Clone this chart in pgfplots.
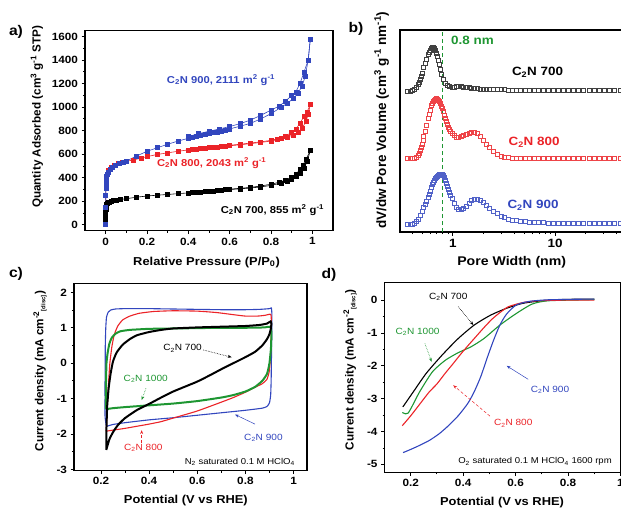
\documentclass[border=0pt]{standalone}
\usepackage{fontspec}
\setmainfont[FakeStretch=1.12]{Liberation Sans}
\newfontfamily\plainfont{Liberation Sans}
\usepackage{pgfplots}
\pgfplotsset{compat=1.18}
\usetikzlibrary{arrows.meta}

\definecolor{cblue}{RGB}{50,70,190}
\definecolor{cred}{RGB}{235,35,40}
\definecolor{cgreen}{RGB}{30,150,50}

\pgfplotsset{
  panel/.style={
    scale only axis, clip=false,
    axis line style={line width=1.1pt},
    tick pos=left, tick align=outside,
    major tick length=3.5pt, minor tick length=2pt,
    every tick/.style={black, line width=0.9pt},
    ticklabel style={font=\fontsize{10.5}{12}\selectfont\bfseries},
    /pgf/number format/assume math mode=true,
    /pgf/number format/1000 sep={},
    scaled ticks=false,
    xlabel style={anchor=center, font=\fontsize{11.5}{13}\selectfont\bfseries},
    ylabel style={anchor=center, font=\plainfont\fontsize{11.7}{13}\selectfont\bfseries},
  },
}
\tikzset{ann/.style={font=\fontsize{9}{10}\selectfont},
  letter/.style={font=\fontsize{14}{16}\selectfont\bfseries}}

\begin{document}
\begin{tikzpicture}[x=1pt,y=1pt]
\path[use as bounding box] (0,0) rectangle (621,507);
\clip (0,0) rectangle (621,507);

\node[letter] at (16,475) {a)};
\node[letter] at (356,478) {b)};
\node[letter] at (16,233) {c)};
\node[letter] at (329,232) {d)};

% a) isotherms
\begin{axis}[panel, at={(85pt,276.3pt)}, anchor=south west,
  width=248pt, height=200pt,
  xmin=-0.1, xmax=1.1, ymin=-50, ymax=1650,
  xtick={0,0.2,0.4,0.6,0.8,1}, ytick={0,200,...,1600},
  minor x tick num=1, minor y tick num=1,
  xlabel={Relative Pressure (P/P\textsubscript{0})},
  ylabel={Quantity Adsorbed (cm\textsuperscript{3} g\textsuperscript{-1} STP)},
  xlabel style={at={(axis description cs:0.49,-0.157)}},
  ylabel style={at={(axis description cs:-0.194,0.57)}},
  every axis plot/.append style={line width=0.6pt, mark=square*, mark size=2pt},
]
\addplot[black, mark options={fill=black}] coordinates {
(0,5) (0.0002,40) (0.0004,80) (0.0006,110) (0.0008,130) (0.001,145) (0.0015,158)
(0.002,165) (0.003,172) (0.005,178) (0.008,184) (0.012,190) (0.018,195) (0.025,200)
(0.035,205) (0.05,210) (0.07,215) (0.1,222) (0.15,235) (0.2,245) (0.25,252) (0.3,258)
(0.35,265) (0.4,271) (0.42,274) (0.44,277) (0.46,280) (0.48,283) (0.5,286) (0.52,289)
(0.54,292) (0.56,295) (0.58,298) (0.6,300) (0.65,306) (0.7,313) (0.75,322) (0.8,335)
(0.85,355) (0.88,372) (0.9,388) (0.92,410) (0.94,435) (0.96,480) (0.975,540) (0.99,630)};
\addplot[black, mark options={fill=black}] coordinates {
(0.99,630) (0.97,560) (0.955,510) (0.94,470) (0.92,430) (0.9,405) (0.87,380)
(0.84,362) (0.8,345) (0.75,330) (0.7,318) (0.65,310) (0.6,303)};
\addplot[cred, mark options={fill=cred}] coordinates {
(0,5) (0.0003,150) (0.0006,250) (0.001,310) (0.002,360) (0.004,400) (0.008,430)
(0.015,460) (0.025,485) (0.04,505) (0.06,520) (0.08,530) (0.1,540) (0.135,552)
(0.17,566) (0.2,580) (0.25,598) (0.3,612) (0.35,625) (0.4,637) (0.42,642) (0.44,646)
(0.46,650) (0.48,654) (0.5,657) (0.52,660) (0.54,663) (0.56,666) (0.58,669) (0.6,672)
(0.65,680) (0.7,690) (0.75,700) (0.8,712) (0.85,732) (0.88,748) (0.91,765) (0.93,785)
(0.95,820) (0.97,880) (0.98,940) (0.99,1022)};
\addplot[cred, mark options={fill=cred}] coordinates {
(0.99,1022) (0.975,960) (0.96,925) (0.94,860) (0.92,815) (0.9,785) (0.87,755)
(0.83,730) (0.8,718) (0.75,705) (0.7,695) (0.65,685) (0.6,676)};
\addplot[cblue, mark options={fill=cblue}] coordinates {
(0,5) (0.0002,150) (0.0004,250) (0.0007,310) (0.001,345) (0.002,380) (0.004,410)
(0.007,430) (0.012,450) (0.02,470) (0.03,488) (0.045,505) (0.065,520) (0.085,532)
(0.1,542) (0.15,585) (0.2,625) (0.25,655) (0.3,685) (0.35,712) (0.4,735) (0.42,745)
(0.44,752) (0.46,760) (0.48,768) (0.5,775) (0.52,783) (0.54,790) (0.56,797) (0.58,805)
(0.6,815) (0.65,838) (0.7,862) (0.75,900) (0.8,945) (0.85,1000) (0.88,1035)
(0.91,1075) (0.93,1120) (0.95,1175) (0.965,1260) (0.98,1400) (0.99,1575)};
\addplot[cblue, mark options={fill=cblue}] coordinates {
(0.99,1575) (0.98,1400) (0.96,1300) (0.94,1200) (0.92,1130) (0.9,1100) (0.87,1050)
(0.84,1010) (0.8,975) (0.75,930) (0.7,890) (0.65,860) (0.6,835) (0.55,815)
(0.5,795) (0.45,775) (0.4,750)};
\node[font=\fontsize{10}{11}\selectfont\bfseries, cblue] at (axis cs:0.558,1231)
  {C\textsubscript{2}N 900, 2111 m\textsuperscript{2} g\textsuperscript{-1}};
\node[font=\fontsize{10}{11}\selectfont\bfseries, cred] at (axis cs:0.513,523)
  {C\textsubscript{2}N 800, 2043 m\textsuperscript{2} g\textsuperscript{-1}};
\node[font=\fontsize{10}{11}\selectfont\bfseries, black] at (axis cs:0.807,126)
  {C\textsubscript{2}N 700, 855 m\textsuperscript{2} g\textsuperscript{-1}};
\end{axis}

% b) pore size distributions
\begin{semilogxaxis}[panel, at={(400pt,275pt)}, anchor=south west,
  width=226.5pt, height=202pt,
  xmin=0.305, xmax=50, ymin=0, ymax=202,
  xtick={1,10}, xticklabels={1,10},
  minor xtick={0.4,0.5,0.6,0.7,0.8,0.9,2,3,4,5,6,7,8,9,20,30,40},
  ytick=\empty,
  ticklabel style={font=\fontsize{12}{14}\selectfont\bfseries},
  xlabel={Pore Width (nm)},
  ylabel={dV/dw Pore Volume (cm\textsuperscript{3} g\textsuperscript{-1} nm\textsuperscript{-1})},
  xlabel style={at={(axis description cs:0.493,-0.149)}, font=\fontsize{12.6}{14}\selectfont\bfseries},
  ylabel style={at={(axis description cs:-0.081,0.554)}, font=\plainfont\fontsize{13.5}{15}\selectfont\bfseries},
  every axis plot/.append style={only marks, mark=square, mark size=2pt, line width=0.5pt},
]
\addplot[black!75] coordinates {
(0.36,141) (0.38,141) (0.40,142) (0.42,143) (0.44,145) (0.46,148) (0.47,150) (0.48,153)
(0.49,156) (0.50,159) (0.52,165) (0.535,169) (0.55,173) (0.57,178) (0.585,180) (0.60,182)
(0.62,184) (0.635,185) (0.65,185) (0.665,184) (0.68,182) (0.695,179) (0.71,176) (0.725,172)
(0.74,168) (0.76,163) (0.78,158) (0.81,153) (0.85,149) (0.89,147) (0.93,146) (0.98,145)
(1.03,145) (1.08,146) (1.14,146) (1.2,146) (1.27,145) (1.35,145) (1.44,145) (1.53,144)
(1.63,144) (1.74,144) (1.86,143) (2.0,143) (2.15,143) (2.3,143) (2.5,143) (2.7,143)
(2.95,143) (3.2,143) (3.5,142) (3.85,142) (4.2,142) (4.6,142) (5.1,142) (5.6,142)
(6.2,142) (6.9,142) (7.7,142) (8.6,142) (9.6,142) (10.7,142) (12,142) (13.4,142)
(15,142) (17,142) (19,142) (21.5,142) (24,142) (27,142) (30,142) (34,142) (38,142) (43,142)};
\addplot[cred!85] coordinates {
(0.36,74) (0.38,74) (0.40,74) (0.42,74) (0.44,75) (0.46,77) (0.47,79) (0.48,82)
(0.49,85) (0.50,88) (0.51,92) (0.52,96) (0.535,101) (0.55,107) (0.57,114) (0.585,118)
(0.60,122) (0.62,127) (0.635,129) (0.65,131) (0.665,132) (0.68,133) (0.695,133.5) (0.71,133)
(0.725,132) (0.74,131) (0.76,129) (0.78,126) (0.795,124) (0.81,121) (0.83,117) (0.85,114)
(0.87,111) (0.89,108) (0.91,105) (0.93,103) (0.955,101) (0.98,99) (1.03,97) (1.08,95)
(1.14,95) (1.2,96) (1.27,97) (1.35,98) (1.44,99) (1.53,99.5) (1.63,99.5) (1.74,98.5)
(1.86,96) (2.0,92) (2.15,88) (2.3,85) (2.5,81) (2.7,78) (2.95,76) (3.2,75)
(3.5,74.5) (3.85,74) (4.2,74) (4.6,74) (5.1,74) (5.6,74) (6.2,74) (6.9,74)
(7.7,74) (8.6,74) (9.6,74) (10.7,74) (12,74) (13.4,74) (15,74) (17,74)
(19,74) (21.5,74) (24,74) (27,74) (30,74) (34,74) (38,74) (43,74)};
\addplot[cblue!85] coordinates {
(0.36,8) (0.38,8) (0.40,8) (0.42,9) (0.44,11) (0.46,13) (0.48,17) (0.50,21)
(0.52,25) (0.535,28) (0.55,31) (0.57,35) (0.585,38) (0.60,41) (0.62,45) (0.635,48)
(0.65,50) (0.665,52) (0.68,54) (0.695,55) (0.71,56) (0.725,57) (0.74,57.5) (0.76,58)
(0.78,58) (0.795,57.5) (0.81,57) (0.83,55) (0.85,52) (0.87,49) (0.89,46) (0.91,43)
(0.93,40) (0.955,37) (0.98,34) (1.03,29) (1.08,25) (1.14,23) (1.2,22.5) (1.27,23.5)
(1.35,26) (1.44,29) (1.53,31.5) (1.63,32.5) (1.74,33) (1.86,32) (2.0,30) (2.15,27)
(2.3,24) (2.5,21) (2.7,18.5) (2.95,16) (3.2,14.5) (3.5,13) (3.85,12) (4.2,11.5)
(4.6,11) (5.1,10.5) (5.6,10) (6.2,10) (6.9,9.5) (7.7,9.5) (8.6,9) (9.6,9)
(10.7,9) (12,9) (13.4,9) (15,9) (17,9) (19,9) (21.5,9) (24,8.5)
(27,8.5) (30,8.5) (34,8.5) (38,8.5) (43,8.5)};
\addplot[cgreen, no marks, sharp plot, line width=1pt, dash pattern=on 4pt off 3pt]
  coordinates {(0.8,0) (0.8,202)};
\node[font=\fontsize{12}{14}\selectfont\bfseries, cgreen] at (axis cs:1.56,192) {0.8 nm};
\node[font=\fontsize{12}{14}\selectfont\bfseries, black] at (axis cs:6.75,160) {C\textsubscript{2}N 700};
\node[font=\fontsize{12}{14}\selectfont\bfseries, cred] at (axis cs:6.24,90) {C\textsubscript{2}N 800};
\node[font=\fontsize{12}{14}\selectfont\bfseries, cblue] at (axis cs:6.1,27) {C\textsubscript{2}N 900};
\end{semilogxaxis}

% c) CV in N2
\begin{axis}[panel, at={(74pt,36.5pt)}, anchor=south west,
  width=233pt, height=187pt,
  xmin=0.088, xmax=1.056, ymin=-3.03, ymax=2.25,
  xtick={0.2,0.4,0.6,0.8,1}, ytick={-3,-2,...,2},
  minor x tick num=1, minor y tick num=1,
  xlabel={Potential (V vs RHE)},
  ylabel={Current density (mA cm\textsuperscript{-2}\textsubscript{\fontsize{6}{7}\selectfont [disc]})},
  xlabel style={at={(axis description cs:0.48,-0.158)}},
  ylabel style={at={(axis description cs:-0.146,0.532)}},
]
\addplot[cblue, line width=1.1pt, smooth, tension=0.3] coordinates {
(0.222,-1.78) (0.217,-1.5) (0.217,-1.0) (0.217,-0.5) (0.218,0) (0.218,0.5) (0.22,1.0)
(0.223,1.3) (0.23,1.44) (0.24,1.5) (0.26,1.53) (0.3,1.54) (0.4,1.54) (0.5,1.53)
(0.6,1.52) (0.7,1.51) (0.8,1.51) (0.86,1.52) (0.9,1.54) (0.908,1.56) (0.91,1.4)
(0.91,1.0) (0.909,0.5) (0.908,0) (0.907,-0.5) (0.905,-0.9) (0.9,-1.12) (0.89,-1.22)
(0.87,-1.27) (0.8,-1.33) (0.7,-1.4) (0.6,-1.47) (0.5,-1.54) (0.4,-1.6) (0.3,-1.68)
(0.25,-1.73) (0.23,-1.77) (0.222,-1.78)};
\addplot[cred, line width=1.1pt, smooth, tension=0.3] coordinates {
(0.222,-1.92) (0.224,-1.6) (0.227,-1.1) (0.232,-0.5) (0.237,0) (0.245,0.45) (0.255,0.8)
(0.27,1.05) (0.29,1.22) (0.32,1.33) (0.36,1.41) (0.42,1.46) (0.5,1.48) (0.6,1.47)
(0.68,1.43) (0.75,1.37) (0.8,1.33) (0.85,1.33) (0.88,1.35) (0.905,1.38) (0.908,1.2)
(0.907,0.8) (0.905,0.3) (0.9,-0.2) (0.89,-0.45) (0.87,-0.58) (0.84,-0.68) (0.8,-0.82)
(0.75,-0.97) (0.7,-1.1) (0.6,-1.35) (0.5,-1.55) (0.45,-1.65) (0.4,-1.72) (0.35,-1.78)
(0.3,-1.84) (0.26,-1.88) (0.222,-1.92)};
\addplot[cgreen, line width=2pt, smooth, tension=0.3] coordinates {
(0.22,-1.3) (0.22,-1.0) (0.221,-0.5) (0.223,0) (0.228,0.3) (0.235,0.55) (0.245,0.72)
(0.26,0.83) (0.28,0.9) (0.32,0.94) (0.4,0.97) (0.5,0.98) (0.6,0.99) (0.7,1.0)
(0.8,1.0) (0.88,1.01) (0.905,1.03) (0.908,0.8) (0.906,0.4) (0.9,0.0) (0.89,-0.3)
(0.87,-0.5) (0.84,-0.67) (0.8,-0.8) (0.75,-0.9) (0.7,-0.97) (0.6,-1.07) (0.5,-1.14)
(0.4,-1.19) (0.3,-1.24) (0.25,-1.27) (0.22,-1.3)};
\addplot[black, line width=2pt, smooth, tension=0.3] coordinates {
(0.222,-2.45) (0.223,-1.8) (0.226,-1.2) (0.232,-0.7) (0.24,-0.3) (0.25,0.05)
(0.265,0.3) (0.29,0.52) (0.32,0.68) (0.35,0.79) (0.4,0.88) (0.45,0.94) (0.5,0.98)
(0.6,1.01) (0.7,1.03) (0.8,1.05) (0.86,1.08) (0.89,1.12) (0.905,1.18) (0.908,1.1)
(0.905,0.95) (0.9,0.82) (0.89,0.68) (0.87,0.5) (0.84,0.32) (0.8,0.17) (0.75,0.0)
(0.7,-0.17) (0.65,-0.35) (0.6,-0.52) (0.55,-0.66) (0.5,-0.8) (0.45,-0.97) (0.4,-1.15)
(0.35,-1.32) (0.3,-1.55) (0.27,-1.75) (0.25,-1.95) (0.235,-2.15) (0.222,-2.45)};
\node[ann] at (axis cs:0.539,0.42) {C\textsubscript{2}N 700};
\draw[black, densely dotted, line width=0.6pt, -{Stealth[length=4pt]}] (axis cs:0.625,0.374) -- (axis cs:0.743,0.167);
\node[ann, cgreen] at (axis cs:0.386,-0.43) {C\textsubscript{2}N 1000};
\draw[cgreen, densely dotted, line width=0.6pt, -{Stealth[length=4pt]}] (axis cs:0.387,-0.71) -- (axis cs:0.369,-1.04);
\node[ann, cred] at (axis cs:0.376,-2.38) {C\textsubscript{2}N 800};
\draw[cred, densely dashed, line width=0.6pt, -{Stealth[length=4pt]}] (axis cs:0.369,-2.24) -- (axis cs:0.369,-1.89);
\node[ann, cblue] at (axis cs:0.875,-2.1) {C\textsubscript{2}N 900};
\draw[cblue, line width=0.5pt, -{Stealth[length=4pt]}] (axis cs:0.84,-1.72) -- (axis cs:0.757,-1.45);
\node[ann, anchor=east, font=\fontsize{8.5}{10}\selectfont] at (axis cs:1.02,-2.79) {N\textsubscript{2} saturated 0.1 M HClO\textsubscript{4}};
\end{axis}

% d) LSV in O2
\begin{axis}[panel, at={(384.5pt,34.7pt)}, anchor=south west,
  width=236pt, height=189.6pt,
  xmin=0.1, xmax=1.0, ymin=-5.24, ymax=0.53,
  xtick={0.2,0.4,0.6,0.8,1}, ytick={-5,-4,...,0},
  minor x tick num=1, minor y tick num=1,
  xlabel={Potential (V vs RHE)},
  ylabel={Current density (mA cm\textsuperscript{-2}\textsubscript{\fontsize{6}{7}\selectfont [disc]})},
  xlabel style={at={(axis description cs:0.498,-0.162)}},
  ylabel style={at={(axis description cs:-0.146,0.54)}},
  every axis plot/.append style={line width=1.1pt, smooth, tension=0.4},
]
\addplot[black] coordinates {
(0.17,-3.25) (0.21,-2.79) (0.259,-2.23) (0.32,-1.67) (0.381,-1.17) (0.442,-0.76)
(0.504,-0.46) (0.565,-0.25) (0.626,-0.1) (0.7,-0.02) (0.785,0.02) (0.871,0.03) (0.9,0.03)};
\addplot[cgreen] coordinates {
(0.168,-3.42) (0.18,-3.46) (0.19,-3.44) (0.204,-3.25) (0.234,-2.79) (0.283,-2.18)
(0.332,-1.83) (0.381,-1.6) (0.43,-1.42) (0.479,-1.17) (0.54,-0.76) (0.602,-0.41)
(0.663,-0.12) (0.724,-0.02) (0.871,0.01) (0.9,0.02)};
\addplot[cred] coordinates {
(0.168,-3.82) (0.2,-3.52) (0.234,-3.17) (0.27,-2.8) (0.3,-2.55) (0.332,-2.22)
(0.36,-1.95) (0.39,-1.65) (0.42,-1.37) (0.45,-1.1) (0.48,-0.83) (0.51,-0.58)
(0.54,-0.38) (0.57,-0.21) (0.6,-0.13) (0.63,-0.07) (0.67,-0.03) (0.72,-0.01)
(0.8,0) (0.9,0)};
\addplot[cblue] coordinates {
(0.171,-4.64) (0.198,-4.55) (0.234,-4.42) (0.271,-4.27) (0.308,-4.07) (0.344,-3.82)
(0.381,-3.52) (0.418,-3.14) (0.442,-2.79) (0.467,-2.33) (0.491,-1.77) (0.516,-1.22)
(0.54,-0.76) (0.565,-0.43) (0.602,-0.15) (0.651,-0.04) (0.724,0.01) (0.871,0.03) (0.9,0.03)};
\node[ann] at (axis cs:0.343,0.1) {C\textsubscript{2}N 700};
\draw[black, densely dotted, line width=0.6pt, -{Stealth[length=4pt]}] (axis cs:0.381,-0.2) -- (axis cs:0.439,-0.76);
\node[ann, cgreen] at (axis cs:0.226,-0.965) {C\textsubscript{2}N 1000};
\draw[cgreen, densely dotted, line width=0.6pt, -{Stealth[length=4pt]}] (axis cs:0.254,-1.32) -- (axis cs:0.28,-1.88);
\node[ann, cblue] at (axis cs:0.731,-2.74) {C\textsubscript{2}N 900};
\draw[cblue, line width=0.5pt, -{Stealth[length=4pt]}] (axis cs:0.648,-2.41) -- (axis cs:0.566,-2.0);
\node[ann, cred] at (axis cs:0.591,-3.75) {C\textsubscript{2}N 800};
\draw[cred, densely dashed, line width=0.5pt, -{Stealth[length=4pt]}] (axis cs:0.502,-3.53) -- (axis cs:0.362,-2.59);
\node[ann, anchor=east, font=\fontsize{8.5}{10}\selectfont] at (axis cs:0.98,-4.92) {O\textsubscript{2} saturated 0.1 M HClO\textsubscript{4} 1600 rpm};
\end{axis}
\end{tikzpicture}
\end{document}
